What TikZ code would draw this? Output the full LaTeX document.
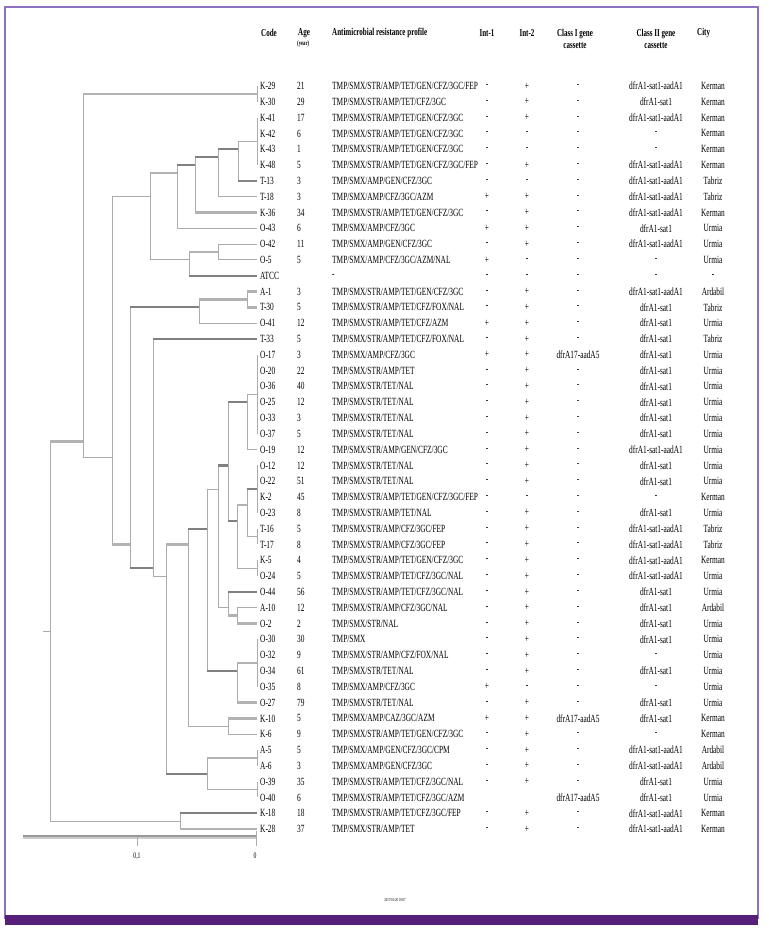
\documentclass[tikz,border=0pt]{standalone}
\usepackage{fontspec}
\setmainfont{Liberation Serif}
\newfontfamily\tabfont[FakeStretch=0.67]{Liberation Serif}
\usepackage{tikz}
\usetikzlibrary{calc}

\definecolor{framepurple}{HTML}{8C72C0}
\definecolor{bandpurple}{HTML}{56207A}

\tikzset{
  br/.style={draw=black!33, line width=0.9pt},
  brm/.style={draw=black!48, line width=1.5pt},
  brl/.style={draw=black!30, line width=2.6pt},
  brd/.style={draw=black!50, line width=2.2pt},
  cell/.style={inner sep=0pt, font=\tabfont\fontsize{11}{12}\selectfont},
  hcell/.style={inner sep=0pt, align=center, font=\tabfont\bfseries\fontsize{10.5}{12}\selectfont},
}

\begin{document}
\begin{tikzpicture}[x=1pt, y=-1pt]

  \useasboundingbox (0,0) rectangle (768,933);

  % Frame
  \draw[framepurple, line width=1.2pt] (5,7) rectangle (758,918);
  \fill[bandpurple] (5,915) rectangle (758,925);

  % Header
  \node[hcell, anchor=west] (hcode) at (261,33) {Code};
  \node[hcell, anchor=west] (hage) at (298,33) {Age};
  \node[cell, anchor=west, font=\tabfont\bfseries\fontsize{7}{8}\selectfont] (hyear) at (297,44) {(year)};
  \node[hcell, anchor=west] (hprof) at (332,33) {Antimicrobial resistance profile};
  \node[hcell] (hinta) at (487,33) {Int-1};
  \node[hcell] (hintb) at (527,33) {Int-2};
  \node[hcell] (hclsa) at (575,39) {Class I gene\\cassette};
  \node[hcell] (hclsb) at (656,39) {Class II gene\\cassette};
  \node[hcell, anchor=west] (hcity) at (697,33) {City};

  % Isolates (rows)
  \foreach \i/\code/\age/\prof/\inta/\intb/\clsa/\clsb/\city in {
    0/K-29/21/{TMP/SMX/STR/AMP/TET/GEN/CFZ/3GC/FEP}/-/+/-/dfrA1-sat1-aadA1/Kerman,
    1/K-30/29/{TMP/SMX/STR/AMP/TET/CFZ/3GC}/-/+/-/dfrA1-sat1/Kerman,
    2/K-41/17/{TMP/SMX/STR/AMP/TET/GEN/CFZ/3GC}/-/+/-/dfrA1-sat1-aadA1/Kerman,
    3/K-42/6/{TMP/SMX/STR/AMP/TET/GEN/CFZ/3GC}/-/-/-/-/Kerman,
    4/K-43/1/{TMP/SMX/STR/AMP/TET/GEN/CFZ/3GC}/-/-/-/-/Kerman,
    5/K-48/5/{TMP/SMX/STR/AMP/TET/GEN/CFZ/3GC/FEP}/-/+/-/dfrA1-sat1-aadA1/Kerman,
    6/T-13/3/{TMP/SMX/AMP/GEN/CFZ/3GC}/-/-/-/dfrA1-sat1-aadA1/Tabriz,
    7/T-18/3/{TMP/SMX/AMP/CFZ/3GC/AZM}/+/+/-/dfrA1-sat1-aadA1/Tabriz,
    8/K-36/34/{TMP/SMX/STR/AMP/TET/GEN/CFZ/3GC}/-/+/-/dfrA1-sat1-aadA1/Kerman,
    9/O-43/6/{TMP/SMX/AMP/CFZ/3GC}/+/+/-/dfrA1-sat1/Urmia,
    10/O-42/11/{TMP/SMX/AMP/GEN/CFZ/3GC}/-/+/-/dfrA1-sat1-aadA1/Urmia,
    11/O-5/5/{TMP/SMX/AMP/CFZ/3GC/AZM/NAL}/+/-/-/-/Urmia,
    12/ATCC/{}/-/-/-/-/-/-,
    13/A-1/3/{TMP/SMX/STR/AMP/TET/GEN/CFZ/3GC}/-/+/-/dfrA1-sat1-aadA1/Ardabil,
    14/T-30/5/{TMP/SMX/STR/AMP/TET/CFZ/FOX/NAL}/-/+/-/dfrA1-sat1/Tabriz,
    15/O-41/12/{TMP/SMX/STR/AMP/TET/CFZ/AZM}/+/+/-/dfrA1-sat1/Urmia,
    16/T-33/5/{TMP/SMX/STR/AMP/TET/CFZ/FOX/NAL}/-/+/-/dfrA1-sat1/Tabriz,
    17/O-17/3/{TMP/SMX/AMP/CFZ/3GC}/+/+/dfrA17-aadA5/dfrA1-sat1/Urmia,
    18/O-20/22/{TMP/SMX/STR/AMP/TET}/-/+/-/dfrA1-sat1/Urmia,
    19/O-36/40/{TMP/SMX/STR/TET/NAL}/-/+/-/dfrA1-sat1/Urmia,
    20/O-25/12/{TMP/SMX/STR/TET/NAL}/-/+/-/dfrA1-sat1/Urmia,
    21/O-33/3/{TMP/SMX/STR/TET/NAL}/-/+/-/dfrA1-sat1/Urmia,
    22/O-37/5/{TMP/SMX/STR/TET/NAL}/-/+/-/dfrA1-sat1/Urmia,
    23/O-19/12/{TMP/SMX/STR/AMP/GEN/CFZ/3GC}/-/+/-/dfrA1-sat1-aadA1/Urmia,
    24/O-12/12/{TMP/SMX/STR/TET/NAL}/-/+/-/dfrA1-sat1/Urmia,
    25/O-22/51/{TMP/SMX/STR/TET/NAL}/-/+/-/dfrA1-sat1/Urmia,
    26/K-2/45/{TMP/SMX/STR/AMP/TET/GEN/CFZ/3GC/FEP}/-/-/-/-/Kerman,
    27/O-23/8/{TMP/SMX/STR/AMP/TET/NAL}/-/+/-/dfrA1-sat1/Urmia,
    28/T-16/5/{TMP/SMX/STR/AMP/CFZ/3GC/FEP}/-/+/-/dfrA1-sat1-aadA1/Tabriz,
    29/T-17/8/{TMP/SMX/STR/AMP/CFZ/3GC/FEP}/-/+/-/dfrA1-sat1-aadA1/Tabriz,
    30/K-5/4/{TMP/SMX/STR/AMP/TET/GEN/CFZ/3GC}/-/+/-/dfrA1-sat1-aadA1/Kerman,
    31/O-24/5/{TMP/SMX/STR/AMP/TET/CFZ/3GC/NAL}/-/+/-/dfrA1-sat1-aadA1/Urmia,
    32/O-44/56/{TMP/SMX/STR/AMP/TET/CFZ/3GC/NAL}/-/+/-/dfrA1-sat1/Urmia,
    33/A-10/12/{TMP/SMX/STR/AMP/CFZ/3GC/NAL}/-/+/-/dfrA1-sat1/Ardabil,
    34/O-2/2/{TMP/SMX/STR/NAL}/-/+/-/dfrA1-sat1/Urmia,
    35/O-30/30/{TMP/SMX}/-/+/-/dfrA1-sat1/Urmia,
    36/O-32/9/{TMP/SMX/STR/AMP/CFZ/FOX/NAL}/-/+/-/-/Urmia,
    37/O-34/61/{TMP/SMX/STR/TET/NAL}/-/+/-/dfrA1-sat1/Urmia,
    38/O-35/8/{TMP/SMX/AMP/CFZ/3GC}/+/-/-/-/Urmia,
    39/O-27/79/{TMP/SMX/STR/TET/NAL}/-/+/-/dfrA1-sat1/Urmia,
    40/K-10/5/{TMP/SMX/AMP/CAZ/3GC/AZM}/+/+/dfrA17-aadA5/dfrA1-sat1/Kerman,
    41/K-6/9/{TMP/SMX/STR/AMP/TET/GEN/CFZ/3GC}/-/+/-/-/Kerman,
    42/A-5/5/{TMP/SMX/AMP/GEN/CFZ/3GC/CPM}/-/+/-/dfrA1-sat1-aadA1/Ardabil,
    43/A-6/3/{TMP/SMX/AMP/GEN/CFZ/3GC}/-/+/-/dfrA1-sat1-aadA1/Ardabil,
    44/O-39/35/{TMP/SMX/STR/AMP/TET/CFZ/3GC/NAL}/-/+/-/dfrA1-sat1/Urmia,
    45/O-40/6/{TMP/SMX/STR/AMP/TET/CFZ/3GC/AZM}/{}/{}/dfrA17-aadA5/dfrA1-sat1/Urmia,
    46/K-18/18/{TMP/SMX/STR/AMP/TET/CFZ/3GC/FEP}/-/+/-/dfrA1-sat1-aadA1/Kerman,
    47/K-28/37/{TMP/SMX/STR/AMP/TET}/-/+/-/dfrA1-sat1-aadA1/Kerman} {
    \pgfmathsetmacro\yy{86+15.81*\i}
    \coordinate (l\i) at (257,\yy);
    \node[cell, anchor=west] (code\i) at (260,\yy) {\code};
    \node[cell, anchor=west] (age\i) at (297,\yy) {\age};
    \node[cell, anchor=west] (prof\i) at (332,\yy) {\prof};
    \node[cell] (inta\i) at (487,\yy) {\inta};
    \node[cell] (intb\i) at (527,\yy) {\intb};
    \node[cell] (clsa\i) at (578,\yy) {\clsa};
    \node[cell] (clsb\i) at (656,\yy) {\clsb};
    \node[cell] (city\i) at (713,\yy) {\city};
  }

  % Dendrogram nodes (x, mean row)
  \foreach \nd/\xx/\k in {
    g0/257/0.5, g2/257/3.5, n1/238/4, n2/218/4.5, n3/195/5, n4/177/5.5,
    g10/218/10.5, n5/189/11, n6/150/7, g13/247/13.5, n7/199/14,
    g17/257/19.5, n8/247/20, g24/257/25.5, g28/257/28.5, n9/247/26.5,
    g30/257/30.5, n10/237/27.5, n11/228/24, g33/237/33.5, n12/228/33,
    n13/218/25.5, g35/257/36.5, n14/237/37, n15/207/28, g40/228/40.5,
    n16/188/29, g42/257/42.5, g44/257/44.5, n17/207/43.5, n18/166/31,
    n19/153/30.5, n20/130/29, n21/112/23.5, n22/83/22.5, g46/180/46.5,
    root/50/34.5}
    \coordinate (\nd) at (\xx,{86+15.81*\k});

  % Identical isolates
  \foreach \a/\b in {l0/l1, l2/l5, l17/l22, l24/l27, l28/l29, l30/l31,
                     l35/l38, l42/l43, l44/l45}
    \draw[br] (\a) -- (\b);

  % Cluster joins
  \foreach \p/\a/\b in {
    n1/g2/l6, n2/n1/l7, n3/n2/l8, n4/n3/l9, g10/l10/l11, n5/g10/l12,
    n6/n4/n5, g13/l13/l14, n7/g13/l15, n8/g17/l23, n9/g24/g28,
    n10/n9/g30, n11/n8/n10, g33/l33/l34, n12/l32/g33, n13/n11/n12,
    n14/g35/l39, n15/n13/n14, g40/l40/l41, n16/n15/g40, n17/g42/g44,
    n18/n16/n17, n19/l16/n18, n20/n7/n19, n21/n6/n20, n22/g0/n21,
    g46/l46/l47, root/n22/g46}
    \draw[br] (\a -| \p) -- (\b -| \p);

  % Branches
  \foreach \c/\p/\s in {
    g0/n22/brl, g2/n1/br, l6/n1/brm, n1/n2/brd, l7/n2/br, n2/n3/brd,
    l8/n3/brl, n3/n4/brd, l9/n4/br, n4/n6/brl, l10/g10/br, l11/g10/br,
    g10/n5/brl, l12/n5/brd, n5/n6/br, n6/n21/br, l13/g13/brl,
    l14/g13/brl, g13/n7/brl, l15/n7/br, n7/n20/brd, l16/n19/brd,
    g17/n8/br, l23/n8/br, n8/n11/brd, g24/n9/brd, g28/n9/br,
    n9/n10/brl, g30/n10/br, n10/n11/brd, n11/n13/brd, l32/n12/brd,
    l33/g33/br, l34/g33/brl, g33/n12/brl, n12/n13/br, n13/n15/br,
    g35/n14/brl, l39/n14/brl, n14/n15/brd, n15/n16/brd, l40/g40/brl,
    l41/g40/br, g40/n16/br, n16/n18/brl, g42/n17/brl, g44/n17/br,
    n17/n18/brd, n18/n19/br, n19/n20/brd, n20/n21/brl, n21/n22/br,
    n22/root/brl, l46/g46/brd, l47/g46/brl, g46/root/br}
    \draw[\s] (\c) -- (\c -| \p);
  \draw[br] (root) -- ++(-7,0);

  % Scale bar
  \coordinate (sb0) at (23,837);
  \coordinate (sb1) at (256,837);
  \coordinate (sbt) at (137,837);
  \draw[black!40, line width=1.2pt] (sb0) ++(0,-1) -- ($(sb1)+(0,-1)$);
  \draw[black!20, line width=1.2pt] (sb0) ++(0,1) -- ($(sb1)+(0,1)$);
  \draw[br] (sbt) -- ++(0,9);
  \draw[br] (sb1) ++(0,-6) -- ++(0,15);
  \node[cell, font=\tabfont\fontsize{8.5}{9}\selectfont] (sbl1) at (137,856) {0,1};
  \node[cell, font=\tabfont\fontsize{8.5}{9}\selectfont] (sbl0) at (255,856) {0};

  % Time stamp
  \node[cell, font=\tabfont\fontsize{4.5}{5}\selectfont] (stamp) at (395,900) {2017/01/20 10:07};

\end{tikzpicture}
\end{document}
